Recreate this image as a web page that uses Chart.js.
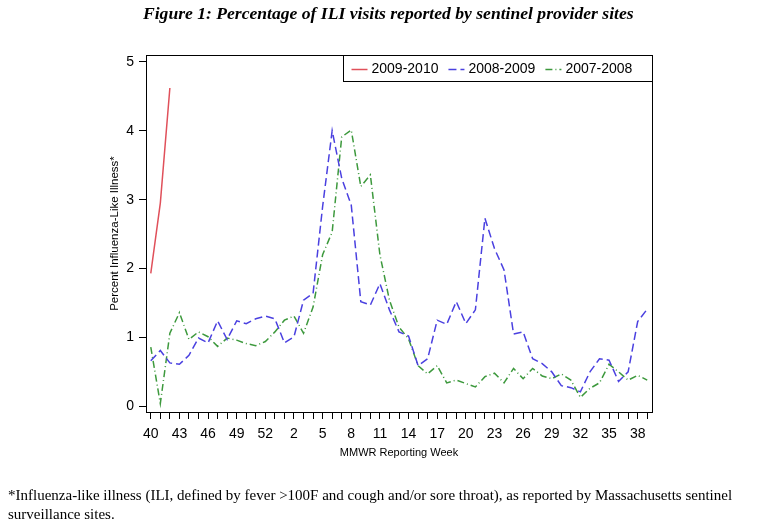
<!DOCTYPE html>
<html>
<head>
<meta charset="utf-8">
<script src="https://cdn.jsdelivr.net/npm/chart.js@4"></script>
<style>
  body { margin: 0; background: #fff; }
  #wrap { position: relative; width: 757px; height: 519px; overflow: hidden; }
  #iliChart { position: absolute; left: 0; top: 0; }
  .title { position: absolute; left: 143px; top: 3px; font: italic bold 17.6px "Liberation Serif", "Times New Roman", serif; color: #000; white-space: nowrap; }
  .note { position: absolute; left: 8px; top: 486px; font: 15px "Liberation Serif", "Times New Roman", serif; line-height: 19px; color: #000; white-space: nowrap; }
</style>
</head>
<body>
<div id="wrap">
  <canvas id="iliChart" width="757" height="519"></canvas>
  <div class="title">Figure 1: Percentage of ILI visits reported by sentinel provider sites</div>
  <div class="note">*Influenza-like illness (ILI, defined by fever &gt;100F and cough and/or sore throat), as reported by Massachusetts sentinel<br>surveillance sites.</div>
</div>
<script>
// MMWR weeks, season starts at week 40 (2008 had a week 53)
const weeks = [40, 41, 42, 43, 44, 45, 46, 47, 48, 49, 50, 51, 52, 53,
  1, 2, 3, 4, 5, 6, 7, 8, 9, 10, 11, 12, 13, 14, 15, 16, 17, 18, 19, 20,
  21, 22, 23, 24, 25, 26, 27, 28, 29, 30, 31, 32, 33, 34, 35, 36, 37, 38, 39];

const season0910 = [1.93, 2.95, 4.62];

const season0809 = [0.66, 0.81, 0.63, 0.61, 0.74, 0.99, 0.92, 1.24, 0.97, 1.24,
  1.20, 1.27, 1.31, 1.27, 0.92, 1.01, 1.54, 1.64, 2.90, 4.00,
  3.31, 2.92, 1.52, 1.47, 1.78, 1.40, 1.08, 1.02, 0.59, 0.69,
  1.25, 1.19, 1.52, 1.20, 1.40, 2.73, 2.29, 1.98, 1.05, 1.08,
  0.69, 0.62, 0.50, 0.30, 0.27, 0.21, 0.50, 0.69, 0.67, 0.36,
  0.50, 1.23, 1.41];

const season0708 = [0.86, 0.04, 1.06, 1.36, 0.97, 1.08, 1.01, 0.87, 0.99, 0.96,
  0.91, 0.88, 0.94, 1.08, 1.25, 1.31, 1.06, 1.44, 2.20, 2.53,
  3.91, 4.01, 3.19, 3.36, 2.20, 1.54, 1.15, 0.98, 0.59, 0.47,
  0.59, 0.34, 0.38, 0.33, 0.28, 0.43, 0.48, 0.34, 0.55, 0.40,
  0.55, 0.44, 0.40, 0.47, 0.38, 0.13, 0.26, 0.34, 0.61, 0.50,
  0.38, 0.45, 0.38];

const yTicks = [0, 1, 2, 3, 4, 5];

const FONT = '"Liberation Sans", Arial, sans-serif';

// frame round the plot plus the boxed legend in the top right corner
const framePlugin = {
  id: 'frame',
  afterDraw(chart) {
    const ctx = chart.ctx;
    const a = chart.chartArea;
    ctx.save();
    ctx.strokeStyle = '#000';
    ctx.lineWidth = 1;
    ctx.setLineDash([]);
    ctx.strokeRect(Math.round(a.left) + 0.5, Math.round(a.top) + 0.5,
      Math.round(a.right - a.left), Math.round(a.bottom - a.top));

    ctx.font = '14px ' + FONT;
    const sets = chart.data.datasets;
    const lineW = 16, gap = 4, itemGap = 10, padL = 8, padR = 20, boxH = 26;
    let total = padL + padR;
    sets.forEach((ds, i) => {
      total += lineW + gap + ctx.measureText(ds.label).width + (i < sets.length - 1 ? itemGap : 0);
    });
    const bx = Math.round(a.right - total) + 0.5;
    const by = Math.round(a.top) + 0.5;
    ctx.strokeRect(bx, by, Math.round(total), boxH);

    let x = bx + padL;
    const cy = by + boxH / 2 + 1;
    sets.forEach(ds => {
      ctx.strokeStyle = ds.borderColor;
      ctx.lineWidth = ds.borderWidth;
      ctx.setLineDash(ds.borderDash || []);
      ctx.beginPath();
      ctx.moveTo(x, cy);
      ctx.lineTo(x + lineW, cy);
      ctx.stroke();
      ctx.setLineDash([]);
      x += lineW + gap;
      ctx.fillStyle = '#000';
      ctx.textBaseline = 'middle';
      ctx.fillText(ds.label, x, cy);
      x += ctx.measureText(ds.label).width + itemGap;
    });
    ctx.restore();
  }
};

const ctx = document.getElementById('iliChart').getContext('2d');

new Chart(ctx, {
  type: 'line',
  data: {
    labels: weeks.map(String),
    datasets: [
      {
        label: '2009-2010',
        data: season0910,
        borderColor: '#e0505a',
        borderWidth: 1.5,
        pointRadius: 0,
        tension: 0
      },
      {
        label: '2008-2009',
        data: season0809,
        borderColor: '#4a40e0',
        borderWidth: 1.5,
        borderDash: [8, 4],
        pointRadius: 0,
        tension: 0
      },
      {
        label: '2007-2008',
        data: season0708,
        borderColor: '#3d993d',
        borderWidth: 1.5,
        borderDash: [7, 3, 1, 3],
        pointRadius: 0,
        tension: 0
      }
    ]
  },
  options: {
    responsive: false,
    animation: false,
    layout: { padding: { left: 104, top: 55, right: 105, bottom: 56 } },
    plugins: {
      legend: { display: false },
      tooltip: { enabled: false },
      title: { display: false }
    },
    scales: {
      x: {
        type: 'category',
        offset: true,
        afterFit: s => { s.height = 51; },
        border: { display: true, color: '#000', width: 1 },
        grid: { display: true, drawOnChartArea: false, color: '#000', tickLength: 7 },
        ticks: {
          autoSkip: false,
          maxRotation: 0,
          color: '#000',
          padding: 7,
          font: { family: FONT, size: 14 },
          callback: (v, i) => (i % 3 === 0 ? String(weeks[i]) : '')
        },
        title: {
          display: true,
          text: 'MMWR Reporting Week',
          color: '#000',
          font: { family: FONT, size: 11 },
          padding: { top: 2, bottom: 3 }
        }
      },
      y: {
        min: -0.083,
        max: 5.1,
        afterFit: s => { s.width = 42; },
        afterBuildTicks: s => { s.ticks = yTicks.map(v => ({ value: v })); },
        border: { display: true, color: '#000', width: 1 },
        grid: { display: true, drawOnChartArea: false, color: '#000', tickLength: 7 },
        ticks: {
          color: '#000',
          padding: 5,
          font: { family: FONT, size: 14 }
        },
        title: {
          display: true,
          text: 'Percent Influenza-Like Illness*',
          color: '#000',
          font: { family: FONT, size: 11.5 },
          padding: { top: 4, bottom: 2 }
        }
      }
    }
  },
  plugins: [framePlugin]
});
</script>
</body>
</html>
